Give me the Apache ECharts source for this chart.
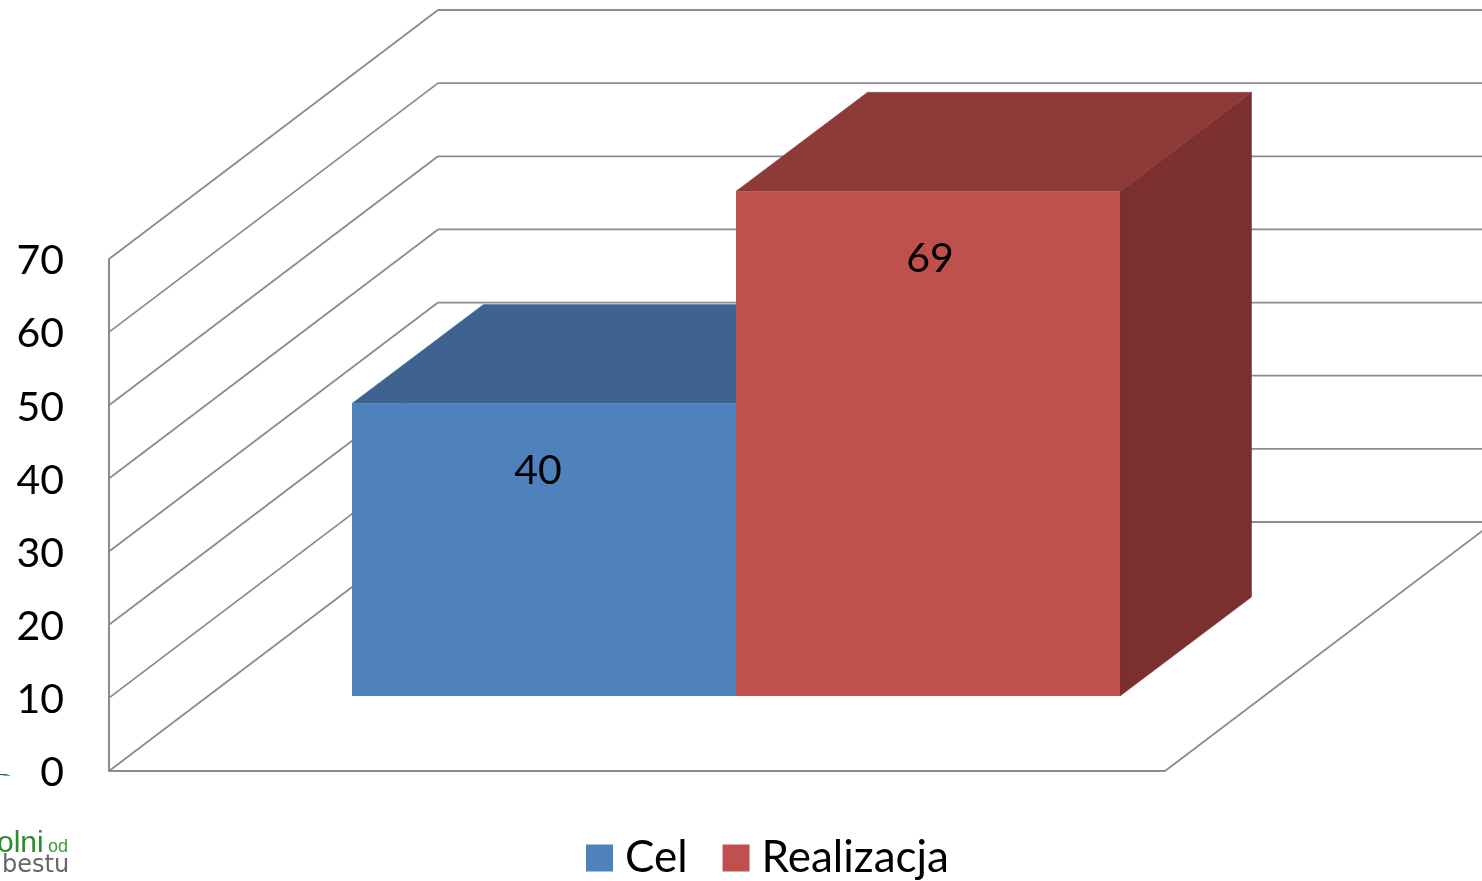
<!DOCTYPE html>
<html>
<head>
<meta charset="utf-8">
<style>html,body{margin:0;padding:0;background:#fff;overflow:hidden}#c{width:1482px;height:881px}</style>
<script src="https://cdn.jsdelivr.net/npm/echarts@6/dist/echarts.min.js"></script>
</head>
<body>
<div id="c"></div>
<script>
const categories = [''];
const celValues = [40];
const realizacjaValues = [69];
const tickValues = [0, 10, 20, 30, 40, 50, 60, 70];

const FONT = 'Lato, "Open Sans", sans-serif';
const GRID = '#8c8c8c';
const WALL_DX = 329, WALL_DY = 249;
const FRONT_DX = 99, FRONT_DY = 75;
const BAR_DX = 131.5, BAR_DY = 99;
const GAP_FRAC = 144 / 1056;

function wallItem(params, api) {
  const v = api.value(0);
  const p = api.coord([0, v]);
  const w = api.size([1, 0])[0];
  const x0 = p[0] - w / 2, y = p[1];
  const style = { stroke: GRID, lineWidth: 1.8, fill: null };
  const lines = [
    { type: 'line', shape: { x1: x0, y1: y, x2: x0 + WALL_DX, y2: y - WALL_DY }, style },
    { type: 'line', shape: { x1: x0 + WALL_DX, y1: y - WALL_DY, x2: x0 + w + WALL_DX, y2: y - WALL_DY }, style }
  ];
  if (v === 0) {
    lines.push({ type: 'line', shape: { x1: x0 + w, y1: y, x2: x0 + w + WALL_DX, y2: y - WALL_DY }, style });
  }
  return { type: 'group', children: lines };
}

function barRenderer(index, front, top, side, labelShift) {
  return function (params, api) {
    const val = api.value(1);
    const p = api.coord([0, val]);
    const base = api.coord([0, 0]);
    const w = api.size([1, 0])[0];
    const gap = w * GAP_FRAC;
    const bw = (w - 2 * gap) / 2;
    const x = p[0] - w / 2 + FRONT_DX + gap + index * bw;
    const yT = p[1] - FRONT_DY, yB = base[1] - FRONT_DY;
    const poly = (pts, fill) => ({ type: 'polygon', shape: { points: pts }, style: { fill, stroke: fill, lineWidth: 0.5 } });
    return {
      type: 'group',
      children: [
        poly([[x + bw, yT], [x + bw + BAR_DX, yT - BAR_DY], [x + bw + BAR_DX, yB - BAR_DY], [x + bw, yB]], side),
        poly([[x, yT], [x + BAR_DX, yT - BAR_DY], [x + bw + BAR_DX, yT - BAR_DY], [x + bw, yT]], top),
        { type: 'rect', shape: { x, y: yT, width: bw, height: yB - yT }, style: { fill: front } },
        { type: 'text', style: { x: x + bw / 2 + labelShift, y: yT + 67, text: String(val), fill: '#000', font: '41px ' + FONT, align: 'center', verticalAlign: 'middle' } }
      ]
    };
  };
}

const chart = echarts.init(document.getElementById('c'), null, { renderer: 'canvas', width: 1482, height: 881 });
chart.setOption({
  animation: false,
  backgroundColor: '#fff',
  grid: { left: 109, top: 259, width: 1056, height: 512, containLabel: false },
  xAxis: { type: 'category', data: categories, axisLine: { show: true, lineStyle: { color: GRID, width: 2 } }, axisTick: { show: false }, axisLabel: { show: false } },
  yAxis: {
    type: 'value', min: 0, max: 70, interval: 10,
    axisLine: { show: true, lineStyle: { color: GRID, width: 2 } },
    axisTick: { show: false },
    splitLine: { show: false },
    axisLabel: { color: '#000', fontFamily: FONT, fontSize: 41, margin: 45, verticalAlign: 'top', lineHeight: 4 }
  },
  legend: {
    data: [{ name: 'Cel', icon: 'rect' }, { name: 'Realizacja', icon: 'rect' }],
    left: 586, top: 834, padding: 0,
    itemWidth: 27, itemHeight: 27, itemGap: 35,
    textStyle: { color: '#000', fontFamily: FONT, fontSize: 44, lineHeight: 48, padding: [0, 0, 0, 7] }
  },
  graphic: [
    { type: 'text', left: -3, top: 829, style: { text: 'olni', fill: '#2f8a2f', font: '30px "Liberation Sans"' } },
    { type: 'text', left: 48, top: 838, style: { text: 'od', fill: '#3f9a3f', font: '18px "Liberation Sans"' } },
    { type: 'text', left: 2, top: 854, style: { text: 'bestu', fill: '#666666', font: '24px "DejaVu Sans"' } },
    { type: 'polygon', shape: { points: [[0, 774], [6, 774], [11, 776], [0, 775]] }, style: { fill: '#1f6b1f' } }
  ],
  series: [
    { type: 'custom', name: 'walls', renderItem: wallItem, clip: false, silent: true, z: 1, encode: { y: 0 }, data: tickValues.map(v => [v]) },
    { type: 'custom', name: 'Cel', renderItem: barRenderer(0, '#4F81BD', '#3E6390', '#3E6390', -6), clip: false, z: 2, itemStyle: { color: '#4F81BD' }, encode: { x: 0, y: 1 }, data: celValues.map((v, i) => [i, v]) },
    { type: 'custom', name: 'Realizacja', renderItem: barRenderer(1, '#C0504D', '#8E3A38', '#7B2F2E', 2), clip: false, z: 3, itemStyle: { color: '#C0504D' }, encode: { x: 0, y: 1 }, data: realizacjaValues.map((v, i) => [i, v]) }
  ]
});
</script>
</body>
</html>
